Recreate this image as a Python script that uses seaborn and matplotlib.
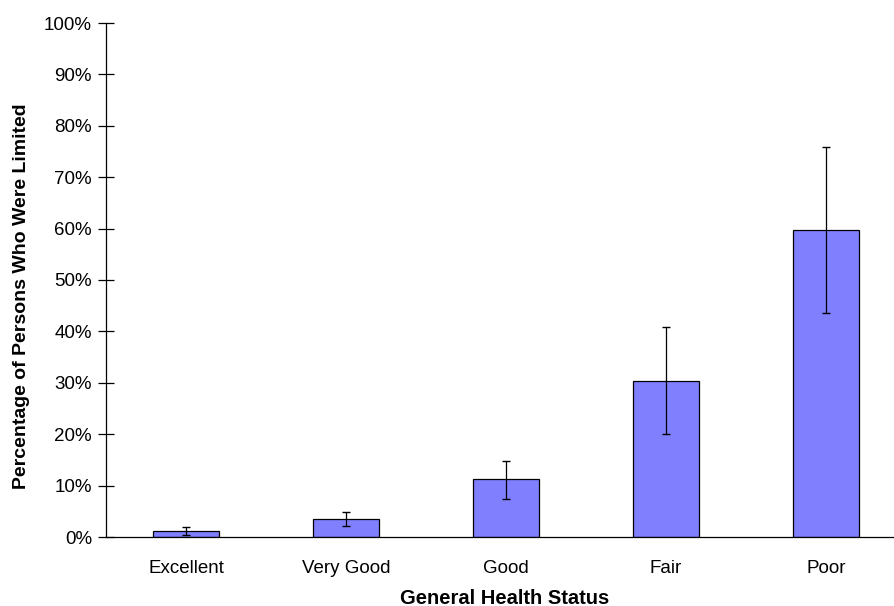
import matplotlib
matplotlib.use("Agg")
import matplotlib.pyplot as plt
from matplotlib.ticker import FixedLocator, NullFormatter, FixedFormatter
import seaborn as sns
import pandas as pd
import numpy as np

# Share of persons limited, by self-rated general health (percent)
categories = ["Excellent", "Very Good", "Good", "Fair", "Poor"]
values = [1.2, 3.5, 11.2, 30.4, 59.7]
ci_low = [0.4, 2.1, 7.4, 20.1, 43.6]
ci_high = [2.0, 4.9, 14.7, 40.8, 75.8]
y_ticks = [0, 10, 20, 30, 40, 50, 60, 70, 80, 90, 100]
y_tick_labels = [f"{t}%" for t in y_ticks]

sns.set_style("white")
plt.rcParams["font.family"] = ["Liberation Sans", "DejaVu Sans"]
plt.rcParams["text.color"] = "black"
plt.rcParams["axes.labelcolor"] = "black"

df = pd.DataFrame({"status": categories, "pct": values})

fig = plt.figure(figsize=(8.95, 6.06), dpi=100)
W, H = 895, 606
ax = fig.add_axes([106 / W, (H - 537) / H, (906 - 106) / W, (537 - 23) / H])

sns.barplot(data=df, x="status", y="pct", color="#8080FF", saturation=1,
            width=0.41, edgecolor="black", linewidth=0.9, ax=ax, errorbar=None)

x = np.arange(len(categories))
vals = np.array(values)
yerr = np.vstack([vals - np.array(ci_low), np.array(ci_high) - vals])
ax.errorbar(x, vals, yerr=yerr, fmt="none", ecolor="black", elinewidth=0.9,
            capsize=3, capthick=1.0, zorder=5)

ax.set_xlim(-0.5, len(categories) - 0.5)
ax.set_ylim(0, 100)

# Category ticks sit on the boundaries; labels centred under each bar
ax.xaxis.set_major_locator(FixedLocator(np.arange(-0.5, len(categories), 1.0)))
ax.xaxis.set_major_formatter(NullFormatter())
ax.xaxis.set_minor_locator(FixedLocator(x))
ax.xaxis.set_minor_formatter(FixedFormatter(categories))
ax.tick_params(axis="x", which="major", direction="inout", length=14, width=0.9, color="black")
ax.tick_params(axis="x", which="minor", length=0, labelsize=13.5, pad=16.5, labelcolor="black")

ax.set_yticks(y_ticks)
ax.set_yticklabels(y_tick_labels)
ax.tick_params(axis="y", direction="inout", length=12, width=0.9, color="black",
               labelsize=13.5, pad=4, labelcolor="black", left=True)

for s in ["top", "right"]:
    ax.spines[s].set_visible(False)
for s in ["left", "bottom"]:
    ax.spines[s].set_color("black")
    ax.spines[s].set_linewidth(0.9)

ax.set_xlabel("General Health Status", fontsize=14.5, fontweight="bold", va="center")
ax.set_ylabel("Percentage of Persons Who Were Limited", fontsize=14, fontweight="bold", va="center")
ax.xaxis.set_label_coords((505 - 106) / 800, -(598 - 537) / 514)
ax.yaxis.set_label_coords(-(106 - 22) / 800, (537 - 296) / 514)

fig.savefig("out.png", dpi=100, facecolor="white")
